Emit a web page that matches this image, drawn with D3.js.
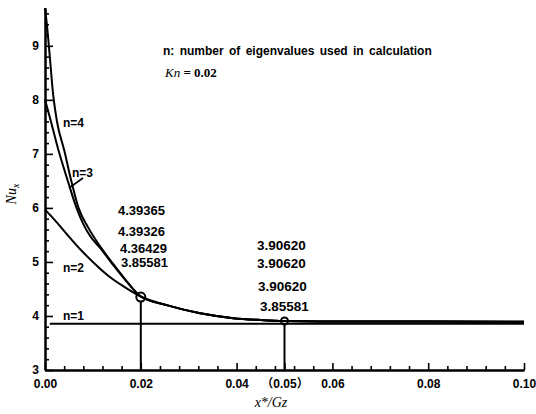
<!DOCTYPE html>
<html>
<head>
<meta charset="utf-8">
<script src="https://cdn.jsdelivr.net/npm/d3@7/dist/d3.min.js"></script>
<style>
  html, body { margin: 0; padding: 0; background: #fff; }
  svg { display: block; }
  .tick text { font-family: "Liberation Sans", Arial, "Noto Sans CJK SC", sans-serif; font-weight: bold; font-size: 12px; fill: #000; }
</style>
</head>
<body>
<svg id="chart" width="536" height="414"></svg>
<script>
// ---------------- data ----------------
const xTickValues = [0, 0.02, 0.04, 0.05, 0.06, 0.08, 0.10];
const xTickLabels = ["0.00", "0.02", "0.04", "（0.05）", "0.06", "0.08", "0.10"];
const yTickValues = [3, 4, 5, 6, 7, 8, 9];

// Nu_x vs x*/Gz
const curveN4 = [[0, 9.7], [0.0005, 9.3], [0.001, 8.8], [0.0017, 8.1], [0.0025, 7.6], [0.004, 7.07],
  [0.0056, 6.46], [0.007, 6.0], [0.009, 5.64], [0.0115, 5.29], [0.014, 4.99], [0.017, 4.65], [0.02, 4.36]];
const curveN3 = [[0, 8.0], [0.001, 7.68], [0.0028, 7.07], [0.0049, 6.46], [0.0065, 6.02], [0.008, 5.7],
  [0.0095, 5.47], [0.0115, 5.26], [0.014, 4.97], [0.017, 4.64], [0.02, 4.36]];
const curveN2 = [[0, 5.97], [0.002, 5.78], [0.0045, 5.52], [0.0075, 5.22], [0.01, 5.0], [0.013, 4.76],
  [0.016, 4.57], [0.02, 4.36]];
const curveTail = [[0.0254, 4.2], [0.0324, 4.05], [0.0393, 3.96], [0.045, 3.925], [0.05, 3.906],
  [0.06, 3.898], [0.1, 3.895]];
const lineN1 = [[0.001, 3.856], [0.1, 3.856]];

const markers = [[0.02, 4.35], [0.05, 3.906]];
const valuesAt002 = ["4.39365", "4.39326", "4.36429", "3.85581"];
const valuesAt005 = ["3.90620", "3.90620", "3.90620", "3.85581"];
const curveNames = ["n=4", "n=3", "n=2", "n=1"];

// ---------------- layout ----------------
const svg = d3.select("#chart");
const x = d3.scaleLinear().domain([0, 0.1]).range([45, 524]);
const y = d3.scaleLinear().domain([3, 9.7]).range([370, 8]);
const sans = '"Liberation Sans", Arial, "Noto Sans CJK SC", sans-serif';
const serif = '"Liberation Serif", "Times New Roman", serif';

// minor ticks
const xMinor = d3.range(1, 25).map(i => +(i * 0.004).toFixed(3)).filter(v => Math.abs(v / 0.02 - Math.round(v / 0.02)) > 1e-6);
const yMinor = d3.range(3.2, 9.65, 0.2).map(v => +v.toFixed(1)).filter(v => Math.abs(v - Math.round(v)) > 1e-6);

const gx = svg.append("g").attr("transform", "translate(0,370)");
gx.call(d3.axisBottom(x).tickValues(xMinor).tickSize(-4).tickSizeOuter(0).tickFormat(""));
gx.append("g").call(d3.axisBottom(x).tickValues(xTickValues).tickSize(-7).tickSizeOuter(0).tickPadding(9)
  .tickFormat((d, i) => xTickLabels[i]));
gx.selectAll("line").attr("stroke", "#000").attr("stroke-width", 1.6);
gx.selectAll("path.domain").attr("stroke", "#000").attr("stroke-width", 2);

const gy = svg.append("g").attr("transform", "translate(45,0)");
gy.call(d3.axisLeft(y).tickValues(yMinor).tickSize(-4).tickSizeOuter(0).tickFormat(""));
gy.append("g").call(d3.axisLeft(y).tickValues(yTickValues).tickSize(-8).tickSizeOuter(0).tickPadding(6)
  .tickFormat(d3.format("d")));
gy.selectAll("line").attr("stroke", "#000").attr("stroke-width", 1.6);
gy.selectAll("path.domain").attr("stroke", "#000").attr("stroke-width", 2);

// curves
const line = d3.line().x(d => x(d[0])).y(d => y(d[1])).curve(d3.curveMonotoneX);
[curveN4, curveN3, curveN2].forEach(c => {
  svg.append("path").datum(c.concat(curveTail)).attr("d", line)
    .attr("fill", "none").attr("stroke", "#000").attr("stroke-width", 2);
});
svg.append("path").datum(lineN1).attr("d", d3.line().x(d => x(d[0])).y(d => y(d[1])))
  .attr("fill", "none").attr("stroke", "#000").attr("stroke-width", 2);

// markers and drop lines
const radii = [4.5, 3.5];
markers.forEach((m, i) => {
  svg.append("line").attr("x1", x(m[0])).attr("x2", x(m[0]))
    .attr("y1", y(m[1]) + radii[i]).attr("y2", y(3))
    .attr("stroke", "#000").attr("stroke-width", 2);
  svg.append("circle").attr("cx", x(m[0])).attr("cy", y(m[1])).attr("r", radii[i])
    .attr("fill", "none").attr("stroke", "#000").attr("stroke-width", 2);
});

// value annotations
const g1x = [118, 118, 120, 121], g1y = [215, 236, 253, 267];
valuesAt002.forEach((t, i) => {
  svg.append("text").attr("x", g1x[i]).attr("y", g1y[i]).text(t)
    .attr("font-family", sans).attr("font-weight", "bold").attr("font-size", 13);
});
const g2x = [257, 257, 258, 260], g2y = [250, 268, 291, 311];
valuesAt005.forEach((t, i) => {
  svg.append("text").attr("x", g2x[i]).attr("y", g2y[i]).text(t)
    .attr("font-family", sans).attr("font-weight", "bold").attr("font-size", 13.5);
});

// curve labels
const nlx = [63, 72, 63, 63], nly = [127, 177, 272, 320];
curveNames.forEach((t, i) => {
  svg.append("text").attr("x", nlx[i]).attr("y", nly[i]).text(t)
    .attr("font-family", sans).attr("font-weight", "bold").attr("font-size", 12);
});
svg.append("line").attr("x1", 83).attr("y1", 178).attr("x2", 69).attr("y2", 188)
  .attr("stroke", "#000").attr("stroke-width", 1.6);

// title
svg.append("text").attr("x", 163).attr("y", 55)
  .attr("font-family", sans).attr("font-weight", "bold").attr("font-size", 12)
  .attr("word-spacing", 2)
  .text("n: number of eigenvalues used in calculation");
const kn = svg.append("text").attr("x", 165).attr("y", 77)
  .attr("font-family", serif).attr("font-size", 13).attr("font-weight", "bold");
kn.append("tspan").attr("font-style", "italic").attr("font-weight", "normal").text("Kn");
kn.append("tspan").text(" = 0.02");

// axis titles
svg.append("text").attr("x", 271).attr("y", 407).attr("text-anchor", "middle")
  .attr("font-family", serif).attr("font-style", "italic").attr("font-size", 14).text("x*/Gz");
const yl = svg.append("text").attr("transform", "translate(16,194) rotate(-90)")
  .attr("text-anchor", "middle").attr("font-family", serif).attr("font-style", "italic").attr("font-size", 14);
yl.append("tspan").text("Nu");
yl.append("tspan").attr("font-size", 10).attr("dy", 3).text("x");
</script>
</body>
</html>
